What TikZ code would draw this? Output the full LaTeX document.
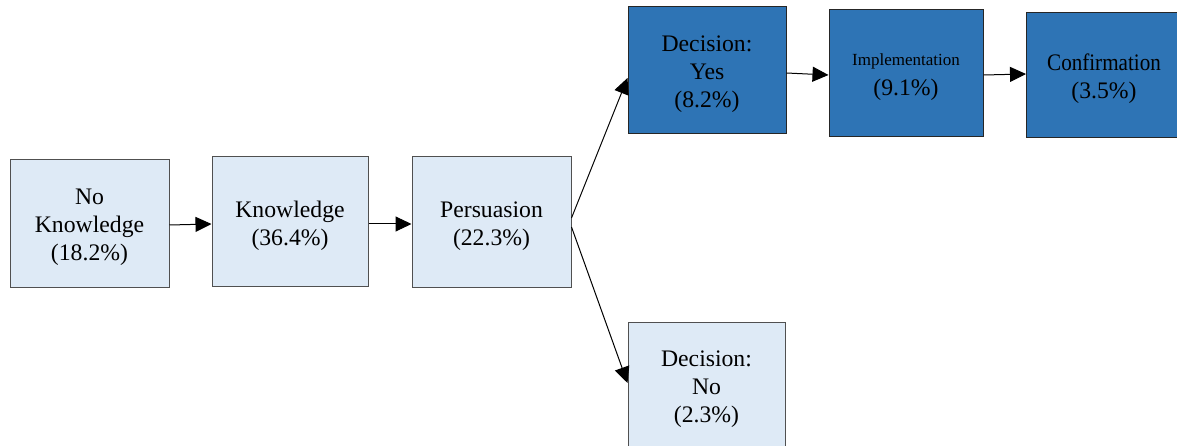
\documentclass[tikz,border=0pt]{standalone}
\usepackage{fontspec}
\setmainfont{Liberation Serif}
\newfontfamily\stagefont{Liberation Serif}
\newfontfamily\narrowstagefont[FakeStretch=0.89]{Liberation Serif}
\usetikzlibrary{arrows.meta}
\definecolor{paleblue}{HTML}{DEEAF6}
\definecolor{deepblue}{HTML}{2E74B5}
\definecolor{edgegray}{HTML}{505050}
\tikzset{
  stage/.style={draw=edgegray, line width=1pt, fill=paleblue, minimum width=#1, minimum height=127pt,
    inner sep=0pt},
  stage/.default=158pt,
  donestage/.style={stage=#1, fill=deepblue, draw=black!85},
  donestage/.default=156pt,
  stagetext/.style={inner sep=0pt, align=center, text=black, font=\stagefont\fontsize{23.7}{28}\selectfont},
  flow/.style={line width=1pt, -{Triangle[length=16pt,width=15pt]}}
}
\begin{document}
\begin{tikzpicture}[x=1pt,y=-1pt]
\useasboundingbox (0,0) rectangle (1177,446);
\clip (0,0) rectangle (1177,446);
\fill[white] (0,0) rectangle (1177,446);
% adoption stages (frames)
\node[stage=159pt, minimum height=127pt] (nk) at (89.5,223.5) {};
\node[stage=156pt, minimum height=129pt] (kn) at (290,221.5) {};
\node[stage=159pt, minimum height=130pt] (pe) at (491.5,222) {};
\node[donestage=158pt] (yes) at (707,70.5) {};
\node[donestage=154pt] (im) at (906,73.5) {};
\node[donestage=155pt, minimum height=125pt] (co) at (1104,75) {};
\node[stage=157pt] (no) at (706.5,385.5) {};
% stage labels
\node[stagetext] (nkt) at ([yshift=-4pt]nk.center) {No\\Knowledge\\(18.2\%)};
\node[stagetext] (knt) at ([yshift=-4pt]kn.center) {Knowledge\\(36.4\%)};
\node[stagetext] (pet) at ([yshift=-4pt]pe.center) {Persuasion\\(22.3\%)};
\node[stagetext] (yest) at ([yshift=-4pt]yes.center) {Decision:\\Yes\\(8.2\%)};
\node[stagetext] (imt) at ([yshift=-4pt]im.center) {{\fontsize{17}{20}\selectfont Implementation}\\[2pt](9.1\%)};
\node[stagetext] (cot) at ([yshift=-4pt]co.center) {{\narrowstagefont Confirmation}\\(3.5\%)};
\node[stagetext] (not) at ([yshift=-4pt]no.center) {Decision:\\No\\(2.3\%)};
% transitions
\draw[flow] ([yshift=-1.5pt]nk.east) -- ([yshift=-2.5pt]kn.west);
\draw[flow] ([yshift=-2.5pt]kn.east) -- ([yshift=-2pt]pe.west);
\draw[flow] ([yshift=4pt]pe.east) -- ([yshift=-7.5pt]yes.west);
\draw[flow] ([yshift=-5pt]pe.east) -- ([yshift=2.5pt]no.west);
\draw[flow] ([yshift=-2.5pt]yes.east) -- ([yshift=-1.5pt]im.west);
\draw[flow] ([yshift=-1.5pt]im.east) -- ([yshift=1pt]co.west);
\end{tikzpicture}
\end{document}
